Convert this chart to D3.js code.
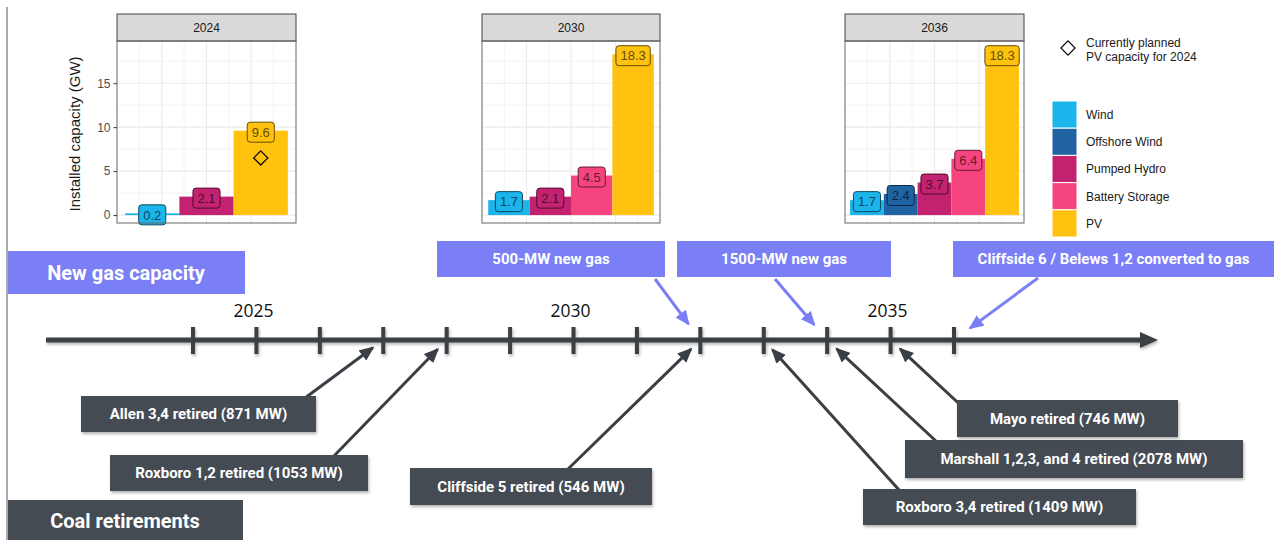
<!DOCTYPE html>
<html>
<head>
<meta charset="utf-8">
<script src="https://d3js.org/d3.v7.min.js"></script>
<style>
body { margin: 0; background: #fff; }
svg { display: block; font-family: "Liberation Sans", Arial, sans-serif; }
.ann text { font-family: Roboto, "Open Sans", sans-serif; font-weight: 700; fill: #fff; }
</style>
</head>
<body>
<svg width="1274" height="540"></svg>
<script>
// installed capacity (GW) per facet
var techs = ["Wind", "Offshore Wind", "Pumped Hydro", "Battery Storage", "PV"];
var techColors = ["#1cb5eb", "#1f63a3", "#c2226f", "#f6457e", "#fec20f"];
var panelYears = ["2024", "2030", "2036"];
var techs2024 = ["Wind", "Pumped Hydro", "PV"];
var values2024 = [0.2, 2.1, 9.6];
var techs2030 = ["Wind", "Pumped Hydro", "Battery Storage", "PV"];
var values2030 = [1.7, 2.1, 4.5, 18.3];
var techs2036 = ["Wind", "Offshore Wind", "Pumped Hydro", "Battery Storage", "PV"];
var values2036 = [1.7, 2.4, 3.7, 6.4, 18.3];
var plannedPV2024 = 6.5;
var yTicks = [0, 5, 10, 15];

// timeline
var timelineYears = [2024, 2025, 2026, 2027, 2028, 2029, 2030, 2031, 2032, 2033, 2034, 2035, 2036];
var yearLabels = [2025, 2030, 2035];
var gasLabels = ["500-MW new gas", "1500-MW new gas", "Cliffside 6 / Belews 1,2 converted to gas"];
var gasYears = [2032, 2034, 2036];
var coalLabels = ["Allen 3,4 retired (871 MW)", "Roxboro 1,2 retired (1053 MW)", "Cliffside 5 retired (546 MW)",
                  "Roxboro 3,4 retired (1409 MW)", "Marshall 1,2,3, and 4 retired (2078 MW)", "Mayo retired (746 MW)"];
var coalYears = [2027, 2028, 2032, 2033, 2034, 2035];

// box layout: x, y, w, h, arrow start x, y
var gasBoxes = [[437, 241, 228, 36, 655, 279], [677, 241, 214, 36, 775, 279], [953, 241, 321, 36, 1038, 278]];
var coalBoxes = [[81, 396, 235, 36, 305, 398], [110, 455, 258, 36, 333, 457], [410, 468, 242, 37, 567, 470],
                 [863, 489, 273, 36, 900, 491], [905, 440, 338, 38, 937, 442], [957, 400, 221, 37, 968, 412]];

var gasColor = "#7a7ff5", coalColor = "#454b52", lineColor = "#3a3f45";

var svg = d3.select("svg");
var defs = svg.append("defs");
defs.append("filter").attr("id", "shadow").attr("x", "-10%").attr("y", "-20%").attr("width", "130%").attr("height", "160%")
  .append("feDropShadow").attr("dx", 1).attr("dy", 2).attr("stdDeviation", 1.5).attr("flood-opacity", 0.3);
[["gasHead", gasColor], ["coalHead", lineColor]].forEach(function(m) {
  defs.append("marker").attr("id", m[0]).attr("markerUnits", "userSpaceOnUse")
    .attr("viewBox", "0 0 15 13").attr("markerWidth", 15).attr("markerHeight", 13)
    .attr("refX", 13).attr("refY", 6.5).attr("orient", "auto")
    .append("path").attr("d", "M0,0 L15,6.5 L0,13 z").attr("fill", m[1]);
});

// left border line
svg.append("line").attr("x1", 7).attr("x2", 7).attr("y1", 7).attr("y2", 540).attr("stroke", "#555").attr("stroke-width", 1);

// ---- bar chart facets ----
var color = d3.scaleOrdinal(techs, techColors);
var y = d3.scaleLinear().domain([-0.9, 19.8]).range([223, 41]);
var panels = [
  {year: panelYears[0], techs: techs2024, values: values2024, x0: 117, x1: 296},
  {year: panelYears[1], techs: techs2030, values: values2030, x0: 482, x1: 660},
  {year: panelYears[2], techs: techs2036, values: values2036, x0: 845, x1: 1024}
];

panels.forEach(function(p, pi) {
  var g = svg.append("g");
  var x = d3.scaleBand().domain(p.techs).range([p.x0, p.x1]).paddingOuter(0.15).paddingInner(0);
  var gx = d3.scaleLinear().domain([0, 8]).range([p.x0, p.x1]);

  // grid
  g.selectAll(".vg").data(d3.range(1, 8)).enter().append("line")
    .attr("x1", function(d) { return gx(d); }).attr("x2", function(d) { return gx(d); })
    .attr("y1", 41).attr("y2", 223)
    .attr("stroke", "#ebebeb").attr("stroke-width", function(d) { return d % 2 ? 0.6 : 1.1; });
  g.selectAll(".hm").data(yTicks.map(function(t) { return t + 2.5; })).enter().append("line")
    .attr("x1", p.x0).attr("x2", p.x1)
    .attr("y1", function(d) { return y(d); }).attr("y2", function(d) { return y(d); })
    .attr("stroke", "#ebebeb").attr("stroke-width", 0.6);
  g.selectAll(".hg").data(yTicks).enter().append("line")
    .attr("x1", p.x0).attr("x2", p.x1)
    .attr("y1", function(d) { return y(d); }).attr("y2", function(d) { return y(d); })
    .attr("stroke", "#ebebeb").attr("stroke-width", 1.1);

  // bars
  g.selectAll(".bar").data(p.techs).enter().append("rect")
    .attr("x", function(d) { return x(d); })
    .attr("width", x.bandwidth())
    .attr("y", function(d, i) { return y(p.values[i]); })
    .attr("height", function(d, i) { return y(0) - y(p.values[i]); })
    .attr("fill", function(d) { return color(d); });

  // planned PV diamond (2024 only)
  if (pi === 0) {
    g.append("rect")
      .attr("x", -5).attr("y", -5).attr("width", 10).attr("height", 10)
      .attr("transform", "translate(" + (x("PV") + x.bandwidth() / 2) + "," + y(plannedPV2024) + ") rotate(45)")
      .attr("fill", "none").attr("stroke", "#111").attr("stroke-width", 1.3);
  }

  // value labels
  p.techs.forEach(function(t, i) {
    var c = color(t);
    var dark = d3.color(c).darker(2.6).formatHex();
    var lg = g.append("g").attr("transform", "translate(" + (x(t) + x.bandwidth() / 2) + "," + (y(p.values[i]) + 1.5) + ")");
    var box = lg.append("rect");
    var txt = lg.append("text").attr("text-anchor", "middle").attr("dy", "0.36em")
      .attr("font-size", 13).attr("fill", dark).text(p.values[i]);
    var w = txt.node().getComputedTextLength() + 9;
    box.attr("x", -w / 2).attr("y", -10).attr("width", w).attr("height", 20)
      .attr("rx", 3).attr("fill", c).attr("stroke", dark).attr("stroke-width", 1);
  });

  // strip + border
  g.append("rect").attr("x", p.x0).attr("y", 14).attr("width", p.x1 - p.x0).attr("height", 27)
    .attr("fill", "#d9d9d9").attr("stroke", "#444").attr("stroke-width", 1);
  g.append("text").attr("x", (p.x0 + p.x1) / 2).attr("y", 27.5).attr("dy", "0.36em")
    .attr("text-anchor", "middle").attr("font-size", 12).attr("fill", "#1a1a1a").text(p.year);
  g.append("rect").attr("x", p.x0).attr("y", 41).attr("width", p.x1 - p.x0).attr("height", 182)
    .attr("fill", "none").attr("stroke", "#666").attr("stroke-width", 1);

  // y axis on first facet
  if (pi === 0) {
    var ax = g.append("g").attr("transform", "translate(" + p.x0 + ",0)")
      .call(d3.axisLeft(y).tickValues(yTicks).tickSize(3.5).tickPadding(3));
    ax.select(".domain").remove();
    ax.selectAll("line").attr("stroke", "#333");
    ax.selectAll("text").attr("font-size", 12).attr("fill", "#4d4d4d").attr("font-family", "Liberation Sans, Arial, sans-serif");
    g.append("text").attr("transform", "translate(80,134) rotate(-90)")
      .attr("text-anchor", "middle").attr("font-size", 15).attr("fill", "#1a1a1a")
      .text("Installed capacity (GW)");
  }
});

// legend
var leg = svg.append("g");
leg.append("rect").attr("x", -5).attr("y", -5).attr("width", 10).attr("height", 10)
  .attr("transform", "translate(1068,48) rotate(45)")
  .attr("fill", "none").attr("stroke", "#111").attr("stroke-width", 1.3);
leg.append("text").attr("x", 1086).attr("y", 47).attr("font-size", 12).attr("fill", "#1a1a1a").text("Currently planned");
leg.append("text").attr("x", 1086).attr("y", 61).attr("font-size", 12).attr("fill", "#1a1a1a").text("PV capacity for 2024");
var keys = leg.selectAll(".key").data(techs).enter().append("g")
  .attr("transform", function(d, i) { return "translate(1052," + (101 + i * 27.2) + ")"; });
keys.append("rect").attr("width", 25).attr("height", 27.2).attr("fill", function(d) { return color(d); })
  .attr("stroke", "#fff").attr("stroke-width", 1);
keys.append("text").attr("x", 34).attr("y", 13.6).attr("dy", "0.36em").attr("font-size", 12)
  .attr("fill", "#1a1a1a").text(function(d) { return d; });

// ---- timeline ----
var axisY = 340;
var xt = d3.scaleLinear().domain([2024, 2036]).range([193, 954]);
var tl = svg.append("g").attr("filter", "url(#shadow)");
tl.append("line").attr("x1", 46).attr("x2", 1142).attr("y1", axisY).attr("y2", axisY)
  .attr("stroke", lineColor).attr("stroke-width", 5);
tl.append("path").attr("d", "M1140," + (axisY - 8) + " L1158," + axisY + " L1140," + (axisY + 8) + " z").attr("fill", lineColor);
tl.selectAll(".tick").data(timelineYears).enter().append("rect")
  .attr("x", function(d) { return xt(d) - 2; }).attr("y", axisY - 13).attr("width", 4).attr("height", 27)
  .attr("fill", lineColor);
svg.selectAll(".yl").data(yearLabels).enter().append("text")
  .attr("x", function(d) { return xt(d) - 3; }).attr("y", 317)
  .attr("text-anchor", "middle").attr("font-family", "Open Sans, sans-serif").attr("font-size", 17.5)
  .attr("fill", "#111").text(function(d) { return d; });

function arrow(g, sx, sy, year, shorten, head, col) {
  var tx = xt(year), ty = axisY;
  var dx = tx - sx, dy = ty - sy, len = Math.sqrt(dx * dx + dy * dy);
  g.append("line").attr("x1", sx).attr("y1", sy)
    .attr("x2", tx - dx / len * shorten).attr("y2", ty - dy / len * shorten)
    .attr("stroke", col).attr("stroke-width", 3).attr("marker-end", "url(#" + head + ")");
}

// gas annotations
var gas = svg.append("g").attr("class", "ann");
gas.append("rect").attr("x", 8).attr("y", 251).attr("width", 237).attr("height", 43).attr("fill", gasColor);
gas.append("text").attr("x", 126).attr("y", 273).attr("dy", "0.36em").attr("text-anchor", "middle")
  .attr("font-size", 20).text("New gas capacity");
gasLabels.forEach(function(lab, i) {
  var b = gasBoxes[i];
  arrow(gas, b[4], b[5], gasYears[i], 20, "gasHead", gasColor);
  gas.append("rect").attr("x", b[0]).attr("y", b[1]).attr("width", b[2]).attr("height", b[3]).attr("fill", gasColor);
  gas.append("text").attr("x", b[0] + b[2] / 2).attr("y", b[1] + b[3] / 2).attr("dy", "0.36em")
    .attr("text-anchor", "middle").attr("font-size", 15).text(lab);
});

// coal annotations
var coal = svg.append("g").attr("class", "ann");
coal.append("rect").attr("x", 8).attr("y", 500).attr("width", 235).attr("height", 40).attr("fill", coalColor);
coal.append("text").attr("x", 125).attr("y", 521).attr("dy", "0.36em").attr("text-anchor", "middle")
  .attr("font-size", 20).text("Coal retirements");
coalLabels.forEach(function(lab, i) {
  var b = coalBoxes[i];
  arrow(coal, b[4], b[5], coalYears[i], 13, "coalHead", lineColor);
});
coalLabels.forEach(function(lab, i) {
  var b = coalBoxes[i];
  coal.append("rect").attr("x", b[0]).attr("y", b[1]).attr("width", b[2]).attr("height", b[3])
    .attr("fill", coalColor).attr("filter", "url(#shadow)");
  coal.append("text").attr("x", b[0] + b[2] / 2).attr("y", b[1] + b[3] / 2).attr("dy", "0.36em")
    .attr("text-anchor", "middle").attr("font-size", 15).text(lab);
});
</script>
</body>
</html>
